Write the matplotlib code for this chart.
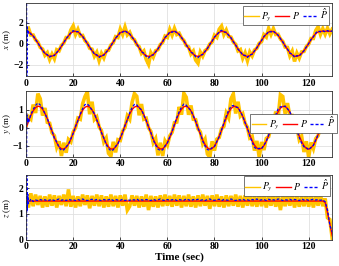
import numpy as np
import matplotlib
matplotlib.use("Agg")
import matplotlib.pyplot as plt

plt.rcParams['font.family'] = ['Liberation Serif', 'DejaVu Serif']
plt.rcParams['mathtext.fontset'] = 'stix'

# time axis (s), one sample per second
t = np.arange(0, 131)

# reference trajectory P
x_P = [1.20, 1.15, 0.99, 0.74, 0.43, 0.08, -0.28, -0.62, -0.89, -1.09,
       -1.19, -1.18, -1.07, -0.86, -0.57, -0.23, 0.13, 0.48, 0.78, 1.02,
       1.16, 1.20, 1.13, 0.96, 0.70, 0.38, 0.02, -0.33, -0.66, -0.93,
       -1.11, -1.20, -1.17, -1.04, -0.82, -0.52, -0.18, 0.18, 0.53, 0.82,
       1.05, 1.17, 1.20, 1.11, 0.92, 0.65, 0.33, -0.03, -0.39, -0.71,
       -0.96, -1.13, -1.20, -1.16, -1.01, -0.78, -0.47, -0.12, 0.24, 0.58,
       0.86, 1.07, 1.18, 1.19, 1.09, 0.89, 0.61, 0.27, -0.09, -0.44,
       -0.75, -0.99, -1.15, -1.20, -1.14, -0.98, -0.74, -0.42, -0.07, 0.29,
       0.62, 0.90, 1.09, 1.19, 1.18, 1.06, 0.85, 0.56, 0.22, -0.14,
       -0.49, -0.79, -1.02, -1.16, -1.20, -1.13, -0.95, -0.69, -0.37, -0.01,
       0.34, 0.67, 0.93, 1.12, 1.20, 1.17, 1.04, 0.81, 0.51, 0.17,
       -0.19, -0.54, -0.83, -1.05, -1.18, -1.19, -1.11, -0.92, -0.65, -0.32,
       0.04, 0.39, 0.71, 0.97, 1.13, 1.20, 1.20, 1.20, 1.20, 1.20, 1.20]
y_P = [0.00, 0.36, 0.68, 0.94, 1.12, 1.20, 1.17, 1.03, 0.80, 0.50,
       0.15, -0.21, -0.55, -0.84, -1.06, -1.18, -1.19, -1.10, -0.91, -0.64,
       -0.30, 0.05, 0.41, 0.72, 0.98, 1.14, 1.20, 1.15, 1.00, 0.76,
       0.45, 0.10, -0.26, -0.60, -0.88, -1.08, -1.19, -1.19, -1.08, -0.87,
       -0.59, -0.25, 0.11, 0.46, 0.77, 1.01, 1.15, 1.20, 1.14, 0.97,
       0.72, 0.40, 0.05, -0.31, -0.64, -0.91, -1.10, -1.19, -1.18, -1.05,
       -0.83, -0.54, -0.20, 0.16, 0.51, 0.81, 1.03, 1.17, 1.20, 1.12,
       0.94, 0.67, 0.35, -0.01, -0.36, -0.69, -0.95, -1.12, -1.20, -1.16,
       -1.03, -0.79, -0.49, -0.14, 0.22, 0.56, 0.85, 1.06, 1.18, 1.19,
       1.10, 0.90, 0.63, 0.30, -0.06, -0.42, -0.73, -0.98, -1.14, -1.20,
       -1.15, -1.00, -0.75, -0.44, -0.09, 0.27, 0.60, 0.88, 1.09, 1.19,
       1.18, 1.07, 0.87, 0.58, 0.24, -0.12, -0.47, -0.77, -1.01, -1.16,
       -1.20, -1.13, -0.97, -0.71, -0.39, -0.04, 0.00, 0.00, 0.00, 0.00, 0.00]
z_P = [1.50] * 127 + [1.45, 1.05, 0.60, 0.15]

# measured P_y, as deviation from P
x_dev = [0.25, 0.35, -0.15, 0.10, -0.05, 0.08, -0.06, 0.12, -0.20, 0.25,
         -0.30, 0.20, -0.35, 0.30, -0.10, 0.08, -0.05, 0.12, -0.18, 0.30,
         0.55, -0.30, 0.25, -0.20, 0.10, -0.08, 0.05, -0.10, 0.15, -0.25,
         0.30, -0.40, 0.25, -0.30, 0.15, -0.10, 0.06, -0.08, 0.15, -0.22,
         0.35, -0.28, 0.40, -0.25, 0.18, -0.10, 0.06, -0.05, 0.12, -0.20,
         0.28, -0.35, -0.75, 0.30, -0.25, 0.12, -0.08, 0.05, -0.10, 0.15,
         -0.25, 0.30, -0.35, 0.28, -0.20, 0.12, -0.06, 0.05, -0.08, 0.15,
         -0.22, 0.30, -0.40, -0.65, 0.35, -0.20, 0.10, -0.06, 0.05, -0.12,
         0.20, -0.28, 0.30, 0.50, -0.30, 0.25, -0.15, 0.08, -0.05, 0.10,
         -0.18, 0.25, -0.35, 0.30, -0.40, 0.35, -0.20, 0.10, -0.05, 0.06,
         -0.12, 0.20, -0.28, 0.35, -0.30, 0.28, -0.15, 0.10, -0.05, 0.06,
         -0.12, 0.20, -0.30, 0.35, -0.50, 0.30, -0.25, 0.15, -0.08, 0.05,
         -0.06, 0.12, -0.20, 0.30, 0.50, -0.30, 0.25, -0.28, 0.30, -0.25, 0.20]
y_dev = [0.10, 0.25, -0.20, 0.35, -0.30, 0.70, 0.45, -0.35, 0.30, -0.20,
         0.10, -0.08, 0.10, -0.25, 0.30, -0.40, 0.35, -0.30, 0.25, -0.15,
         0.06, -0.05, 0.12, -0.25, 0.35, 0.60, 0.80, -0.40, 0.45, -0.30,
         0.15, -0.06, 0.10, -0.20, 0.30, -0.35, -0.40, 0.40, -0.30, 0.20,
         -0.12, 0.06, -0.10, 0.20, -0.30, 0.40, 0.75, 0.55, -0.45, 0.35,
         -0.25, 0.12, -0.06, 0.10, -0.20, 0.30, -0.45, 0.35, -0.40, 0.30,
         -0.15, 0.08, -0.06, 0.12, -0.20, 0.35, -0.30, 0.75, 0.50, -0.40,
         0.30, -0.20, 0.10, -0.05, 0.12, -0.20, 0.30, -0.35, -0.45, 0.40,
         -0.25, 0.15, -0.06, 0.08, -0.15, 0.25, -0.30, 0.55, 0.70, -0.40,
         0.35, -0.25, 0.15, -0.06, 0.08, -0.15, 0.25, -0.30, 0.40, -0.45,
         0.35, -0.25, 0.15, -0.06, 0.10, -0.20, 0.30, -0.35, 0.75, 0.55,
         -0.40, 0.30, -0.20, 0.10, -0.05, 0.12, -0.20, 0.30, -0.35, 0.40,
         -0.45, 0.30, -0.20, 0.10, -0.06, 0.08, -0.05, 0.06, -0.04, 0.05, -0.03]
z_dev = [0.10, -0.25, 0.30, -0.20, 0.25, -0.15, 0.20, -0.25, 0.18, -0.22,
         0.25, -0.18, 0.22, -0.25, 0.20, -0.15, 0.25, -0.20, 0.45, -0.22,
         0.20, -0.25, 0.18, -0.20, 0.25, -0.15, 0.22, -0.28, 0.20, -0.18,
         0.25, -0.20, 0.22, -0.25, 0.18, -0.22, 0.25, -0.20, 0.20, -0.25,
         0.22, -0.18, 0.25, -0.35, -0.20, 0.22, -0.18, 0.20, -0.25, 0.18,
         -0.22, 0.25, -0.35, 0.20, -0.22, 0.18, -0.25, 0.22, -0.20, 0.25,
         -0.18, 0.20, -0.22, 0.25, -0.18, 0.22, -0.25, 0.20, -0.20, 0.25,
         -0.22, 0.18, -0.25, 0.22, -0.20, 0.25, -0.18, 0.20, -0.30, 0.22,
         -0.20, 0.25, -0.22, 0.18, -0.25, 0.22, -0.20, 0.20, -0.18, 0.25,
         -0.22, 0.20, -0.25, 0.22, -0.18, 0.25, -0.20, 0.18, -0.22, 0.25,
         -0.20, 0.22, -0.25, 0.20, -0.18, 0.25, -0.22, 0.20, -0.35, 0.22,
         -0.20, 0.25, -0.18, 0.22, -0.25, 0.20, -0.22, 0.18, -0.20, 0.25,
         -0.22, 0.20, -0.25, 0.22, -0.18, 0.25, -0.20, 0.15, -0.20, 0.18, -0.10]

# estimate P_hat: start-up transient, then deviation from P for t = 1..130
t_hat_start = [0.2, 0.3, 0.5, 0.8]
x_hat_start = [3.85, -3.10, 1.60, 0.90]
y_hat_start = [-1.62, 0.80, 0.30, 0.55]
z_hat_start = [0.00, 2.50, 1.15, 1.75]
x_hat_dev = [0.05, -0.08, 0.03, -0.02, 0.04, -0.03, 0.02, -0.05, 0.06, -0.08,
             0.10, -0.06, 0.05, -0.02, 0.02, -0.03, 0.03, -0.05, 0.06, 0.10,
             -0.06, 0.05, -0.04, 0.02, -0.02, 0.03, -0.03, 0.05, -0.06, 0.08,
             -0.10, 0.06, -0.05, 0.03, -0.02, 0.02, -0.03, 0.04, -0.05, 0.08,
             -0.06, 0.08, -0.05, 0.03, -0.02, 0.02, -0.02, 0.04, -0.06, 0.07,
             -0.08, -0.15, 0.06, -0.05, 0.03, -0.02, 0.02, -0.03, 0.04, -0.06,
             0.07, -0.08, 0.06, -0.04, 0.03, -0.02, 0.02, -0.03, 0.04, -0.06,
             0.08, -0.10, -0.12, 0.08, -0.05, 0.03, -0.02, 0.02, -0.03, 0.05,
             -0.06, 0.07, 0.10, -0.06, 0.05, -0.03, 0.02, -0.02, 0.03, -0.04,
             0.06, -0.08, 0.07, -0.10, 0.08, -0.05, 0.03, -0.02, 0.02, -0.03,
             0.05, -0.06, 0.08, -0.07, 0.06, -0.04, 0.03, -0.02, 0.02, -0.03,
             0.05, -0.07, 0.08, -0.12, 0.07, -0.06, 0.04, -0.02, 0.02, -0.02,
             0.03, -0.05, 0.06, 0.10, -0.06, 0.05, -0.06, 0.07, -0.05, 0.04]
y_hat_dev = [-0.10, 0.05, 0.08, 0.12, 0.18, 0.10, 0.06, -0.03, 0.02, -0.02,
             0.03, -0.04, 0.05, -0.06, -0.08, -0.05, 0.04, -0.03, 0.02, -0.02,
             0.03, -0.02, 0.04, 0.08, 0.15, 0.12, 0.05, -0.04, 0.03, -0.02,
             0.02, -0.03, 0.04, -0.06, -0.08, -0.10, -0.05, 0.04, -0.03, 0.02,
             -0.02, 0.03, -0.03, 0.06, 0.12, 0.15, 0.08, -0.05, 0.04, -0.03,
             0.02, -0.02, 0.03, -0.05, -0.06, -0.10, -0.08, -0.06, 0.04, -0.03,
             0.02, -0.02, 0.03, 0.05, 0.08, 0.12, 0.15, 0.06, -0.04, 0.03,
             -0.02, 0.02, -0.03, 0.04, -0.06, -0.08, -0.10, -0.06, 0.05, -0.03,
             0.02, -0.02, 0.03, 0.05, 0.08, 0.12, 0.14, 0.06, -0.04, 0.03,
             -0.02, 0.02, -0.03, 0.05, -0.06, -0.08, -0.12, -0.06, 0.05, -0.03,
             0.02, -0.02, 0.03, 0.04, 0.08, 0.12, 0.16, 0.08, -0.04, 0.03,
             -0.02, 0.02, -0.03, 0.04, -0.06, -0.08, -0.10, -0.06, 0.05, -0.04,
             0.03, -0.02, 0.03, -0.02, 0.02, -0.02, 0.02, -0.01, 0.02, -0.01]
z_hat_dev = [-0.10, 0.08, -0.02, 0.04, 0.02, 0.06, 0.03, 0.05, 0.01, 0.04,
             0.06, 0.02, 0.05, 0.08, 0.03, 0.06, 0.02, 0.07, 0.04, 0.05,
             0.02, 0.06, 0.03, 0.08, 0.04, 0.02, 0.05, 0.07, 0.03, 0.06,
             0.04, 0.02, 0.06, 0.03, 0.05, 0.08, 0.02, 0.06, 0.04, 0.03,
             0.07, 0.02, 0.05, 0.03, 0.06, 0.04, 0.08, 0.02, 0.05, 0.03,
             0.06, 0.04, 0.02, 0.07, 0.03, 0.05, 0.08, 0.04, 0.02, 0.06,
             0.03, 0.05, 0.07, 0.02, 0.06, 0.04, 0.03, 0.08, 0.05, 0.02,
             0.06, 0.04, 0.07, 0.03, 0.05, 0.02, 0.06, 0.08, 0.04, 0.03,
             0.05, 0.07, 0.02, 0.06, 0.04, 0.03, 0.08, 0.05, 0.02, 0.06,
             0.04, 0.07, 0.03, 0.05, 0.02, 0.06, 0.04, 0.08, 0.03, 0.05,
             0.06, 0.02, 0.07, 0.04, 0.05, 0.03, 0.08, 0.06, 0.02, 0.05,
             0.04, 0.07, 0.03, 0.06, 0.05, 0.02, 0.08, 0.04, 0.06, 0.03,
             0.05, 0.07, 0.04, 0.06, 0.03, 0.05, 0.02, 0.10, -0.05, 0.15]

panels = [
    ("$x$ (m)", x_P, x_dev, x_hat_start, x_hat_dev, (-3.1, 3.85), [-2, 0, 2]),
    ("$y$ (m)", y_P, y_dev, y_hat_start, y_hat_dev, (-1.62, 2.05), [-1, 0, 1]),
    ("$z$ (m)", z_P, z_dev, z_hat_start, z_hat_dev, (0, 2.5), [0, 1, 2]),
]
# axes boxes in figure fractions [left, bottom, width, height]
boxes = [[0.077, 0.713, 0.903, 0.274],
         [0.077, 0.411, 0.903, 0.247],
         [0.077, 0.099, 0.903, 0.242]]
legend_anchor = [(0.993, 0.985), (1.018, 0.67), (0.997, 1.0)]

yellow = '#FFC400'
t_hat = np.concatenate([t_hat_start, t[1:]])

fig = plt.figure(figsize=(3.39, 2.66), dpi=100)
for i, (lab, P, dev, hs, hd, ylim, yt) in enumerate(panels):
    ax = fig.add_axes(boxes[i])
    P = np.array(P)
    Py = P + np.array(dev)
    Phat = np.concatenate([hs, P[1:] + np.array(hd)])
    ax.plot(t, Py, color=yellow, lw=2.6, solid_joinstyle='miter', label='$P_y$')
    ax.plot(t, P, color='red', lw=1.0, label='$P$')
    ax.plot(t_hat, Phat, color='blue', lw=0.9, ls=(0, (2.2, 1.4)), label=r'$\hat{P}$')
    ax.set_xlim(0, 130)
    ax.set_ylim(*ylim)
    ax.set_yticks(yt)
    ax.set_xticks(range(0, 121, 20))
    ax.grid(True, color='#E0E0E0', lw=0.6)
    ax.tick_params(direction='in', labelsize=7, length=2, width=0.5, pad=2)
    for lbl in ax.get_xticklabels() + ax.get_yticklabels():
        lbl.set_fontweight('bold')
    for s in ax.spines.values():
        s.set_color('#303030')
        s.set_linewidth(0.6)
    ax.set_ylabel(lab, fontsize=6.5)
    ax.yaxis.set_label_coords(-0.044, 0.5)
    leg = ax.legend(loc='upper right', bbox_to_anchor=legend_anchor[i], ncol=3,
                    fontsize=7, handlelength=1.5, handletextpad=0.25,
                    columnspacing=0.3, borderpad=0.15, borderaxespad=0.1,
                    fancybox=False, framealpha=1.0, edgecolor='#404040')
    leg.get_frame().set_linewidth(0.5)
    for h in leg.get_lines():
        h.set_linewidth(1.0)
    if i == 2:
        ax.set_xlabel('Time (sec)', fontsize=8, fontweight='bold', labelpad=1)

fig.savefig('out.png', dpi=100)
